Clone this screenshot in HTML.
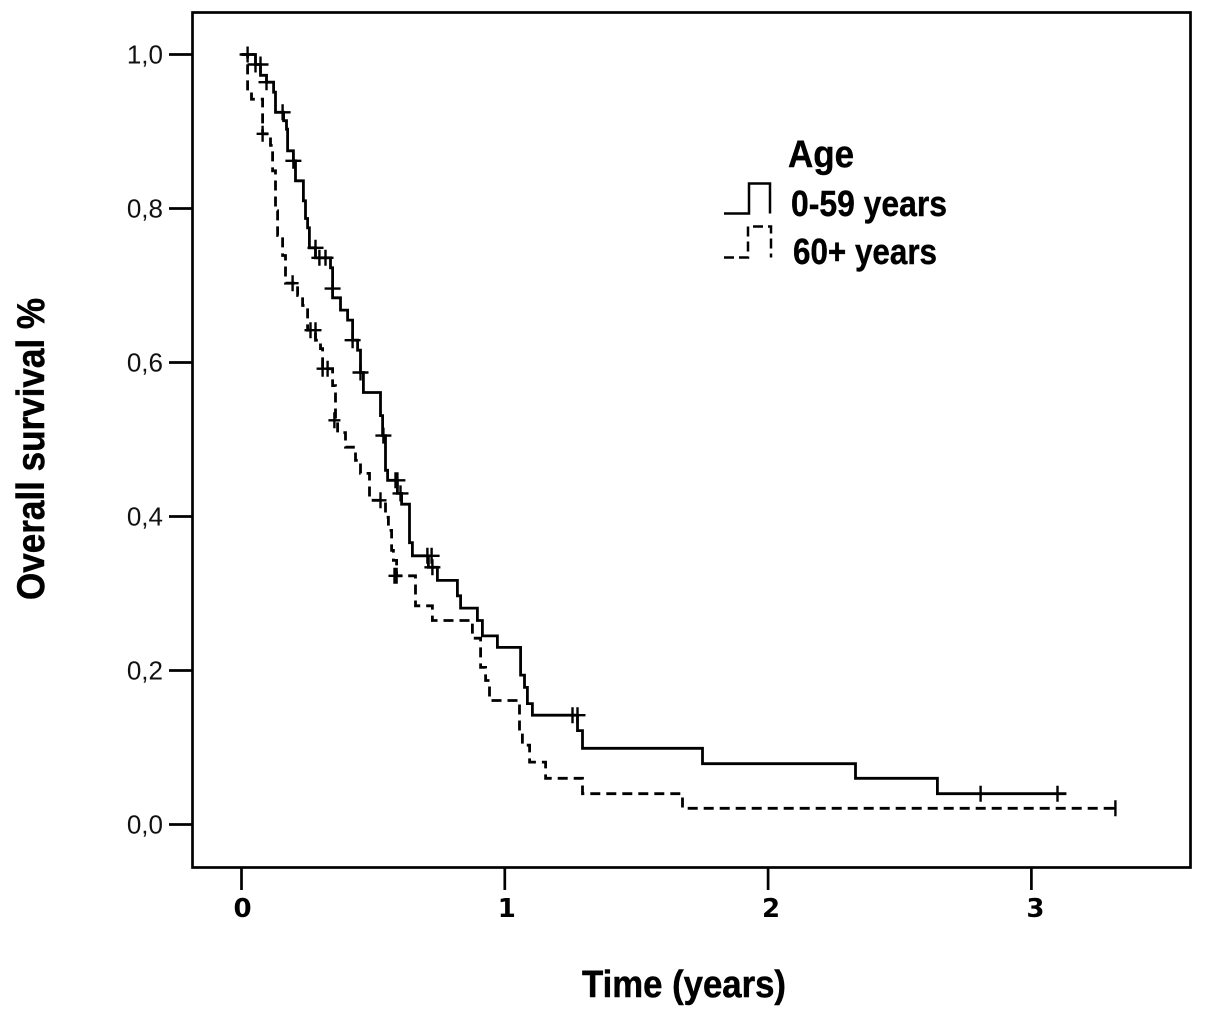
<!DOCTYPE html>
<html lang="en">
<head>
<meta charset="utf-8">
<title>Overall survival by age</title>
<style>
html,body{margin:0;padding:0;background:#fff;}
svg{display:block;}
</style>
</head>
<body>
<svg id="chart" xmlns="http://www.w3.org/2000/svg" width="1205" height="1020" viewBox="0 0 1205 1020">
  <rect x="0" y="0" width="1205" height="1020" fill="#fff"/>
  <rect x="192.5" y="12.5" width="998" height="855" fill="none" stroke="#000" stroke-width="2.7"/>
  <g id="axes"></g>
  <g id="series"></g>
  <text transform="translate(44,600) rotate(-90)" font-family="'Liberation Sans',sans-serif" font-weight="700" font-size="39" textLength="302" lengthAdjust="spacingAndGlyphs" fill="#000" stroke="#000" stroke-width="0.5">Overall survival %</text>
  <text x="582" y="997" font-family="'Liberation Sans',sans-serif" font-weight="700" font-size="38" textLength="204" lengthAdjust="spacingAndGlyphs" fill="#000" stroke="#000" stroke-width="0.5">Time (years)</text>
  <g font-family="'Liberation Sans',sans-serif" font-weight="700" fill="#000" stroke="#000" stroke-width="0.4">
    <text x="788" y="167" font-size="38" textLength="66" lengthAdjust="spacingAndGlyphs">Age</text>
    <path d="M724 213.5H749V183.5H770V213.5" fill="none" stroke="#000" stroke-width="2.5"/>
    <text x="791" y="216" font-size="36" textLength="156" lengthAdjust="spacingAndGlyphs">0-59 years</text>
    <path d="M724 257.5H748V226.5H771V257.5" fill="none" stroke="#000" stroke-width="2.5" stroke-dasharray="10 5"/>
    <text x="793" y="264" font-size="36" textLength="144" lengthAdjust="spacingAndGlyphs">60+ years</text>
  </g>
</svg>
<script>
const xTickValues = [0, 1, 2, 3];
const xTickLabels = ['0', '1', '2', '3'];
const yTickValues = [1, 0.8, 0.6, 0.4, 0.2, 0];
const yTickLabels = ['1,0', '0,8', '0,6', '0,4', '0,2', '0,0'];

const youngTimes = [0, 0.053, 0.072, 0.095, 0.122, 0.129, 0.160, 0.171, 0.175, 0.197, 0.205, 0.235, 0.243, 0.251, 0.258, 0.281, 0.338, 0.346, 0.376, 0.403, 0.422, 0.441, 0.452, 0.463, 0.528, 0.536, 0.547, 0.555, 0.592, 0.608, 0.638, 0.649, 0.710, 0.744, 0.820, 0.832, 0.896, 0.915, 0.972, 1.060, 1.075, 1.086, 1.105, 1.276, 1.295, 1.751, 2.332, 2.643];
const youngSurvival = [1, 0.987, 0.973, 0.964, 0.951, 0.925, 0.914, 0.903, 0.875, 0.862, 0.836, 0.810, 0.787, 0.775, 0.749, 0.736, 0.723, 0.684, 0.668, 0.655, 0.629, 0.616, 0.587, 0.561, 0.531, 0.505, 0.460, 0.447, 0.430, 0.416, 0.366, 0.349, 0.334, 0.317, 0.297, 0.281, 0.265, 0.245, 0.230, 0.194, 0.178, 0.157, 0.142, 0.122, 0.099, 0.079, 0.060, 0.040];
const youngEndTime = 3.133;
const youngCensorTimes = [0.023, 0.053, 0.072, 0.095, 0.156, 0.197, 0.281, 0.296, 0.319, 0.346, 0.422, 0.452, 0.539, 0.585, 0.592, 0.604, 0.706, 0.722, 0.725, 1.257, 1.276, 2.807, 3.099];
const youngCensorSurvival = [1, 0.987, 0.987, 0.964, 0.925, 0.862, 0.749, 0.736, 0.736, 0.696, 0.629, 0.587, 0.505, 0.447, 0.447, 0.430, 0.349, 0.349, 0.334, 0.142, 0.142, 0.040, 0.040];

const olderTimes = [0, 0.023, 0.038, 0.080, 0.110, 0.118, 0.129, 0.137, 0.156, 0.167, 0.213, 0.232, 0.251, 0.281, 0.300, 0.308, 0.346, 0.357, 0.365, 0.395, 0.433, 0.452, 0.486, 0.547, 0.558, 0.570, 0.577, 0.589, 0.661, 0.725, 0.877, 0.908, 0.927, 0.942, 1.056, 1.067, 1.094, 1.155, 1.295, 1.675];
const olderSurvival = [1, 0.953, 0.942, 0.897, 0.882, 0.849, 0.797, 0.765, 0.739, 0.703, 0.687, 0.674, 0.642, 0.629, 0.618, 0.592, 0.570, 0.525, 0.509, 0.490, 0.473, 0.456, 0.421, 0.399, 0.382, 0.356, 0.343, 0.323, 0.284, 0.265, 0.242, 0.204, 0.187, 0.161, 0.121, 0.103, 0.081, 0.060, 0.040, 0.021];
const olderEndTime = 3.319;
const olderCensorTimes = [0.080, 0.194, 0.262, 0.281, 0.308, 0.327, 0.353, 0.528, 0.581, 0.589, 3.319];
const olderCensorSurvival = [0.897, 0.703, 0.642, 0.642, 0.592, 0.592, 0.525, 0.421, 0.323, 0.323, 0.021];

const NS = 'http://www.w3.org/2000/svg';
const INK = '#000';
const xScale = t => 241.5 + 263.3 * t;
const yScale = s => 824.5 - 770 * s;

function make(tag, attrs, parent) {
  const el = document.createElementNS(NS, tag);
  Object.keys(attrs).forEach(k => el.setAttribute(k, attrs[k]));
  parent.appendChild(el);
  return el;
}

const axes = document.getElementById('axes');
xTickValues.forEach((v, i) => {
  const px = xScale(v);
  const tick = make('line', {x1: px, x2: px, y1: 868, y2: 890, stroke: INK, 'stroke-width': 2.7}, axes);
  
  
  const label = make('text', {x: px + 1 + i, y: 917, 'text-anchor': 'middle', 'font-family': "'DejaVu Sans',sans-serif", 'font-weight': 700, 'font-size': 26, fill: INK}, axes);
  
  
  label.textContent = xTickLabels[i];
});
yTickValues.forEach((v, i) => {
  const py = yScale(v);
  const tick = make('line', {x1: 169, x2: 192, y1: py, y2: py, stroke: INK, 'stroke-width': 2.7}, axes);
  
  
  const label = make('text', {x: 163, y: py + 9, 'text-anchor': 'end', 'font-family': "'Liberation Sans',sans-serif", 'font-size': 26, fill: '#111'}, axes);
  
  
  label.textContent = yTickLabels[i];
});

function stepPath(times, survival, endTime) {
  let d = 'M' + xScale(times[0]).toFixed(1) + ' ' + yScale(survival[0]).toFixed(1);
  for (let i = 1; i < times.length; i++) {
    d += 'H' + xScale(times[i]).toFixed(1) + 'V' + yScale(survival[i]).toFixed(1);
  }
  return d + 'H' + xScale(endTime).toFixed(1);
}

function censorPath(times, survival, endTime, arm) {
  let d = '';
  times.forEach((t, i) => {
    const px = xScale(t), py = yScale(survival[i]);
    const right = Math.min(px + arm, xScale(endTime));
    d += 'M' + px.toFixed(1) + ' ' + (py - 8).toFixed(1) + 'V' + (py + 8).toFixed(1);
    d += 'M' + (px - arm).toFixed(1) + ' ' + py.toFixed(1) + 'H' + right.toFixed(1);
  });
  return d;
}

const layer = document.getElementById('series');

const youngLine = make('path', {d: stepPath(youngTimes, youngSurvival, youngEndTime), fill: 'none', stroke: INK, 'stroke-width': 2.8}, layer);



const youngTicks = make('path', {d: censorPath(youngCensorTimes, youngCensorSurvival, youngEndTime, 8), fill: 'none', stroke: INK, 'stroke-width': 2.4}, layer);



const olderLine = make('path', {d: stepPath(olderTimes, olderSurvival, olderEndTime), fill: 'none', stroke: INK, 'stroke-width': 2.8, 'stroke-dasharray': '10 6'}, layer);



const olderTicks = make('path', {d: censorPath(olderCensorTimes, olderCensorSurvival, olderEndTime, 6), fill: 'none', stroke: INK, 'stroke-width': 2.4}, layer);


</script>
</body>
</html>
